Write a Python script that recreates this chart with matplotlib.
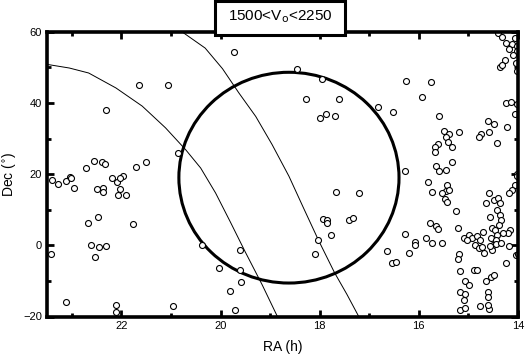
import matplotlib
matplotlib.use("Agg")
import matplotlib.pyplot as plt
from matplotlib.patches import Ellipse, Rectangle
from matplotlib.ticker import MultipleLocator

plt.rcParams["font.family"] = ["Liberation Sans", "DejaVu Sans"]

# ==========================
# DATA
# ==========================
TITLE = "1500<V$_{\\rm o}$<2250"

# galaxies, west part (RA > 20h)
ra_west = [21.64, 21.06, 22.31, 20.86, 22.55, 22.40, 22.33, 22.71, 21.51, 21.71, 23.04,
           23.39, 23.27, 23.11, 23.02, 22.96, 22.18, 22.08, 21.97, 22.03, 22.50, 22.37,
           22.37, 22.03, 22.07, 21.90, 22.67, 22.47, 21.77, 22.61, 22.45, 22.30, 23.41,
           22.54, 23.12, 22.10, 22.10, 20.96, 20.37]
dec_west = [44.9, 44.9, 38.0, 25.9, 23.6, 23.3, 22.8, 21.8, 23.4, 22.1, 19.1,
            18.4, 17.2, 18.2, 18.8, 16.0, 19.0, 17.9, 19.5, 19.0, 15.8, 16.0,
            15.1, 15.8, 14.2, 14.0, 6.2, 7.9, 6.0, 0.1, -0.35, -0.25, -2.4,
            -3.2, -15.8, -16.9, -18.8, -17.0, 0.1]

# galaxies, middle part
ra_mid = [19.72, 18.45, 17.96, 18.27, 17.61, 18.00, 17.87, 17.70,
          17.67, 17.20, 17.94, 17.85, 17.85, 17.40, 17.32, 17.77, 18.03, 18.10,
          19.61, 20.04, 19.61, 19.58, 19.80, 19.70]
dec_mid = [54.2, 49.4, 46.8, 41.0, 41.0, 35.8, 36.9, 36.2,
           14.9, 14.6, 7.4, 7.1, 6.4, 7.1, 7.6, 2.9, 1.5, -2.4,
           -1.3, -6.4, -6.9, -10.3, -12.8, -18.1]

# galaxies, east part, north of 20 deg
ra_ne = [16.25, 15.76, 15.94, 16.82, 16.52, 15.60, 15.49, 15.40, 15.45, 15.42, 15.20,
         15.61, 15.67, 15.68, 15.34, 14.60, 14.49, 14.23, 14.58, 14.74, 14.79, 14.43,
         14.25, 14.15, 14.07, 14.02, 15.34, 15.66, 15.60, 15.45, 16.28, 14.02,
         14.40, 14.32, 14.25, 14.07, 14.12, 14.03, 14.03, 14.27, 14.37, 14.33, 14.04,
         14.03, 14.18, 14.10]
dec_ne = [46.1, 45.9, 41.6, 38.9, 37.5, 36.2, 32.0, 31.2, 30.3, 28.9, 31.8,
          28.5, 27.5, 26.2, 27.6, 34.8, 34.1, 33.3, 31.8, 31.3, 30.3, 28.8,
          39.9, 40.3, 36.9, 39.6, 23.3, 22.4, 20.8, 21.1, 20.8, 20.0,
          59.6, 58.4, 56.8, 58.2, 56.5, 55.9, 54.7, 52.0, 50.0, 50.7, 51.2,
          49.0, 55.0, 53.5]

# galaxies, east part, south of 20 deg
ra_se = [15.82, 15.73, 15.44, 15.46, 15.54, 15.39, 15.48, 15.44, 15.26, 15.78, 15.66,
         15.61, 16.27, 15.85, 16.07, 16.07, 15.74, 15.53, 16.64, 16.20, 16.54, 16.46,
         15.21, 14.59, 14.65, 14.49, 14.40, 14.37, 14.42, 14.36, 14.35, 14.39, 14.07,
         14.12, 14.19, 14.02, 14.57, 14.53, 14.47, 14.16, 14.20, 14.31, 14.42,
         15.08, 14.99, 14.92, 15.02, 14.82, 14.76, 14.71, 14.87, 14.79, 14.69, 14.72,
         14.55, 14.51, 14.45, 14.52, 14.57, 14.44, 14.35, 14.19, 14.05, 14.01, 14.24,
         15.18, 15.21, 15.17, 14.89, 14.82, 14.54, 14.49, 14.64, 15.07, 14.99, 15.17,
         15.06, 15.08, 14.61, 14.60, 15.16, 15.06, 14.76, 14.59, 14.61]
dec_se = [17.7, 15.1, 16.8, 15.3, 14.6, 15.6, 13.0, 12.3, 9.5, 6.2, 5.5,
          4.6, 3.1, 2.0, 1.0, 0.1, 0.6, 0.6, -1.6, -2.2, -5.0, -4.7,
          4.8, 14.6, 11.8, 12.7, 13.4, 11.8, 9.9, 8.5, 7.1, 5.7, 16.9,
          15.6, 14.6, 19.6, 8.0, 5.0, 4.3, 4.3, 3.4, 3.4, 2.9,
          2.0, 2.9, 2.0, 1.5, 2.5, 1.5, 3.7, 0.1, -0.8, -2.2, -0.4,
          2.0, 0.1, 1.5, -1.3, -0.1, 0.3, 0.6, -0.1, -2.7, -2.5, -5.0,
          -2.5, -3.8, -7.2, -6.9, -6.9, -8.8, -8.3, -10.0, -10.0, -11.2, -13.0,
          -13.7, -15.3, -13.0, -14.4, -18.1, -17.6, -17.0, -17.9, -16.7]

# two thin curves
curve1_ra = [23.70, 23.49, 23.05, 22.66, 22.11, 21.58, 21.11, 20.70, 20.40, 20.10,
             19.80, 19.50, 19.16, 18.86, 18.78]
curve1_dec = [51.3, 50.8, 49.8, 48.4, 44.2, 39.1, 33.0, 26.8, 21.7, 14.7,
              6.5, -1.9, -11.1, -19.8, -22.0]
curve2_ra = [20.85, 20.77, 20.31, 19.96, 19.63, 19.29, 18.96, 18.62, 18.33, 18.02,
             17.70, 17.45, 17.22, 17.15]
curve2_dec = [61.0, 59.9, 55.4, 49.6, 42.8, 36.2, 28.3, 19.4, 10.6, 1.3,
              -7.7, -13.8, -19.8, -21.5]

# search circle
circ_ra, circ_dec = 18.62, 19.0
circ_dra, circ_ddec = 2.22, 29.6

# ==========================
# PLOT
# ==========================
fig = plt.figure(figsize=(5.31, 3.60), dpi=100)
ax = fig.add_axes([47 / 531, 43.5 / 360, 471 / 531, 284.8 / 360])

ax.plot(curve1_ra, curve1_dec, color="black", lw=0.7)
ax.plot(curve2_ra, curve2_dec, color="black", lw=0.7)
ax.add_patch(Ellipse((circ_ra, circ_dec), 2 * circ_dra, 2 * circ_ddec,
                     fill=False, ec="black", lw=2.2))

for ra, dec in [(ra_west, dec_west), (ra_mid, dec_mid), (ra_ne, dec_ne), (ra_se, dec_se)]:
    ax.plot(ra, dec, "o", ms=4.3, mfc="white", mec="black", mew=0.8, ls="none")

ax.set_xlim(23.5, 14)
ax.set_ylim(-20, 60)
ax.xaxis.set_major_locator(MultipleLocator(2))
ax.xaxis.set_minor_locator(MultipleLocator(1))
ax.yaxis.set_major_locator(MultipleLocator(20))
ax.yaxis.set_minor_locator(MultipleLocator(10))
ax.tick_params(which="both", direction="in", top=True, right=True, labelsize=8)
ax.tick_params(which="major", length=5, width=2)
ax.tick_params(which="minor", length=3, width=2)
for s in ax.spines.values():
    s.set_linewidth(2.6)

ax.set_xlabel("RA (h)", fontsize=10, labelpad=6)
ax.set_ylabel("Dec ($^{\\circ}$)", fontsize=10, labelpad=4)

# boxed title sitting on the top axis
fig.patches.append(Rectangle((215 / 531, 325.5 / 360), 130 / 531, 33.5 / 360,
                             transform=fig.transFigure, fc="white", ec="black",
                             lw=2.2, zorder=5))
fig.text(280 / 531, 343 / 360, TITLE, ha="center", va="center", fontsize=11, zorder=6)

fig.savefig("out.png", dpi=100)
